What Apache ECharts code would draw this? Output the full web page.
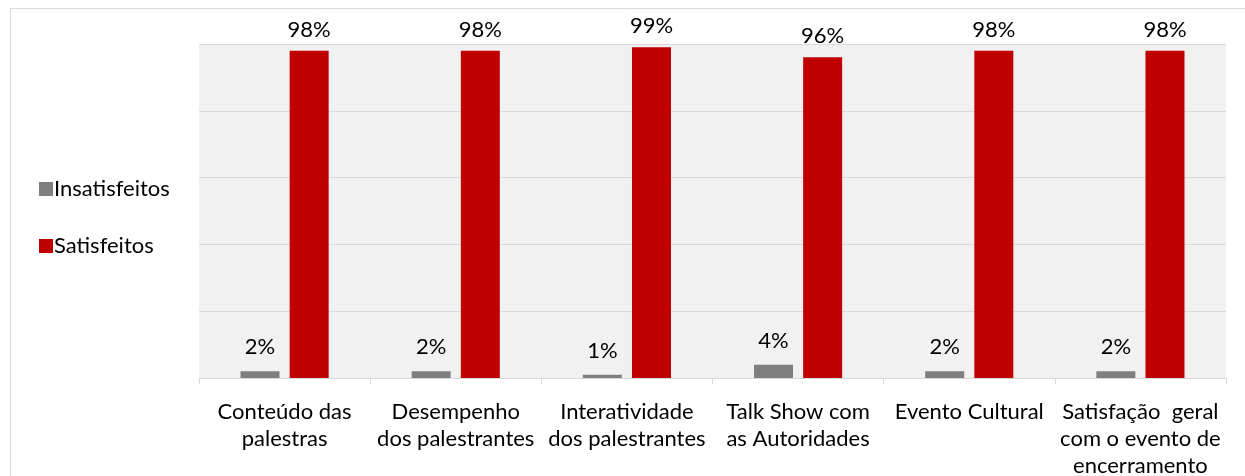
<!DOCTYPE html>
<html>
<head>
<meta charset="utf-8">
<script src="https://cdn.jsdelivr.net/npm/echarts@6/dist/echarts.min.js"></script>
<style>
  html, body { margin: 0; padding: 0; background: #fff; }
  #chart { width: 1245px; height: 476px; }
</style>
</head>
<body>
<div id="chart"></div>
<script>
// categorias e valores (%)
const categories = [
  'Conteúdo das\npalestras',
  'Desempenho\ndos palestrantes',
  'Interatividade\ndos palestrantes',
  'Talk Show com\nas Autoridades',
  'Evento Cultural',
  'Satisfação  geral\ncom o evento de\nencerramento'
];
const insatisfeitos = [2, 2, 1, 4, 2, 2];
const satisfeitos = [98, 98, 99, 96, 98, 98];

const FONT = 'Lato, "Open Sans", sans-serif';
const FS = 22;
const chart = echarts.init(document.getElementById('chart'));

const option = {
  backgroundColor: '#ffffff',
  animation: false,
  textStyle: { fontFamily: FONT },
  graphic: [
    {
      type: 'rect',
      shape: { x: 10.5, y: 8.5, width: 1260, height: 500 },
      style: { fill: 'none', stroke: '#d9d9d9', lineWidth: 1 },
      silent: true
    }
  ],
  legend: {
    orient: 'vertical',
    left: 34,
    top: 173,
    itemWidth: 14,
    itemHeight: 14,
    itemGap: 35,
    icon: 'rect',
    textStyle: { fontFamily: FONT, fontSize: FS, color: '#000', padding: [0, 0, 0, -4] },
    data: ['Insatisfeitos', 'Satisfeitos']
  },
  grid: {
    left: 199,
    right: 19,
    top: 44,
    bottom: 98,
    outerBoundsMode: 'none',
    containLabel: false,
    show: true,
    backgroundColor: '#f1f1f1',
    borderWidth: 0
  },
  xAxis: {
    type: 'category',
    data: categories,
    axisLine: { lineStyle: { color: '#d9d9d9', width: 1 } },
    axisTick: { show: true, length: 6, lineStyle: { color: '#d9d9d9' } },
    axisLabel: {
      interval: 0,
      color: '#000',
      fontFamily: FONT,
      fontSize: FS,
      lineHeight: 27,
      margin: 20
    }
  },
  yAxis: {
    type: 'value',
    min: 0,
    max: 100,
    interval: 20,
    axisLine: { show: false },
    axisTick: { show: false },
    axisLabel: { show: false },
    splitLine: { lineStyle: { color: '#d9d9d9', width: 1 } }
  },
  series: [
    {
      name: 'Insatisfeitos',
      type: 'bar',
      data: insatisfeitos,
      barWidth: 39,
      barGap: '26%',
      itemStyle: { color: '#7f7f7f' },
      label: {
        show: true,
        position: 'top',
        distance: 13,
        formatter: '{c}%',
        color: '#000',
        fontFamily: FONT,
        fontSize: FS
      }
    },
    {
      name: 'Satisfeitos',
      type: 'bar',
      data: satisfeitos,
      barWidth: 39,
      barGap: '26%',
      itemStyle: { color: '#c00000' },
      label: {
        show: true,
        position: 'top',
        distance: 10,
        formatter: '{c}%',
        color: '#000',
        fontFamily: FONT,
        fontSize: FS
      }
    }
  ]
};

chart.setOption(option);
</script>
</body>
</html>
